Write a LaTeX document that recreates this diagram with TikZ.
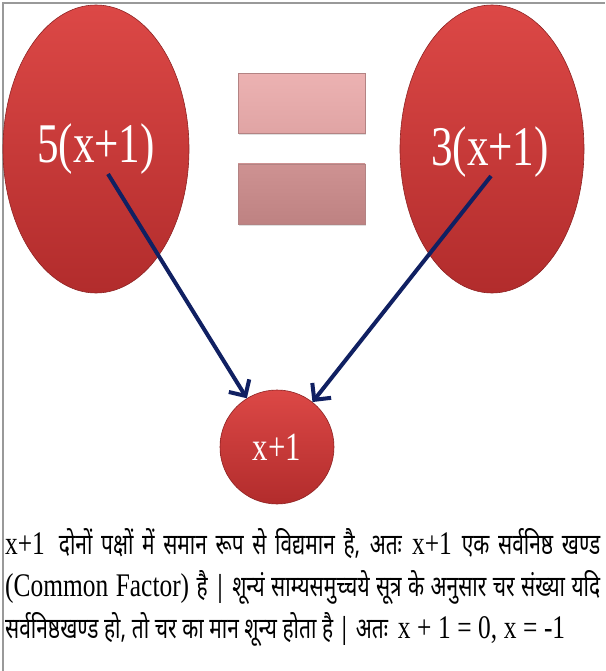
\documentclass[tikz,border=0pt]{standalone}
\usepackage{fontspec}
\setmainfont{Liberation Serif}[FakeStretch=0.77]
\newfontfamily\hindifont[Script=Devanagari, FakeStretch=0.72, Scale=0.88]{Noto Sans}
\usepackage{xcolor}
\usepackage{tikz}
\usetikzlibrary{shapes.geometric, arrows.meta, positioning, shadows}
\definecolor{bubtop}{RGB}{220,72,70}
\definecolor{bubbot}{RGB}{178,44,44}
\definecolor{bartop}{RGB}{236,178,178}
\definecolor{barbot}{RGB}{224,164,164}
\definecolor{bardtop}{RGB}{206,146,146}
\definecolor{bardbot}{RGB}{190,130,130}
\definecolor{arrnavy}{RGB}{16,32,98}
\newcommand{\hi}[1]{{\hindifont #1}}

\begin{document}
\begin{tikzpicture}[
    x=1pt, y=-1pt,
    bubble/.style={ellipse, draw=bubbot!80!black, line width=0.6pt, top color=bubtop, bottom color=bubbot, inner sep=0pt},
    bigtxt/.style={text=white, font=\fontsize{56}{60}\selectfont},
    eqbar/.style={rectangle, draw=barbot!80!black, line width=0.5pt, minimum width=127pt, minimum height=60pt, drop shadow={opacity=0.25, shadow xshift=1pt, shadow yshift=-1.5pt}},
    arr/.style={-{Straight Barb[length=12pt, width=24pt]}, line width=4pt, arrnavy},
    textline/.style={anchor=base west, inner sep=0pt, font=\fontsize{33}{40}\selectfont}
]
\useasboundingbox (0,0) rectangle (605,671);
% Frame
\draw[gray!80, line width=1.2pt] (3,671) -- (3,3) -- (605,3);

% Left and right sides
\node[bubble, minimum width=186pt, minimum height=288pt] (lhs) at (96,149) {};
\node[bubble, minimum width=184pt, minimum height=288pt] (rhs) at (492,149) {};
\node[bigtxt, anchor=base] (lhstxt) at (96,163) {5(x+1)};
\node[bigtxt, anchor=base] (rhstxt) at (490,165) {3(x+1)};

% Equals sign
\node[eqbar, top color=bartop, bottom color=barbot] (eqtop) at (301.5,103.5) {};
\node[eqbar, top color=bardtop, bottom color=bardbot] (eqbot) at (301.5,194) {};

% Common factor
\node[bubble, circle, minimum size=114pt, text=white, font=\fontsize{40}{44}\selectfont] (common) at (277,447) {x+1};

\coordinate (lstart) at (108,174);
\coordinate (rstart) at (491,176);
\draw[arr] (lstart) -- (common);
\draw[arr] (rstart) -- (common);

% Explanation
\node[textline] (line1) at (5,554) {\hbox to 595pt{x+1\hspace{14pt}\hi{दोनों पक्षों में समान रूप से विद्यमान है, अतः} x+1 \hi{एक सर्वनिष्ठ खण्ड}}};
\node[textline] (line2) at (5,596) {\hbox to 595pt{(Common Factor) \hi{है | शून्यं साम्यसमुच्चये सूत्र के अनुसार चर संख्या यदि}}};
\node[textline] (line3) at (5,638) {\hbox to 560pt{\hi{सर्वनिष्ठखण्ड हो, तो चर का मान शून्य होता है | अतः}\hspace{10pt}x + 1 = 0, x = -1}};
\end{tikzpicture}
\end{document}
